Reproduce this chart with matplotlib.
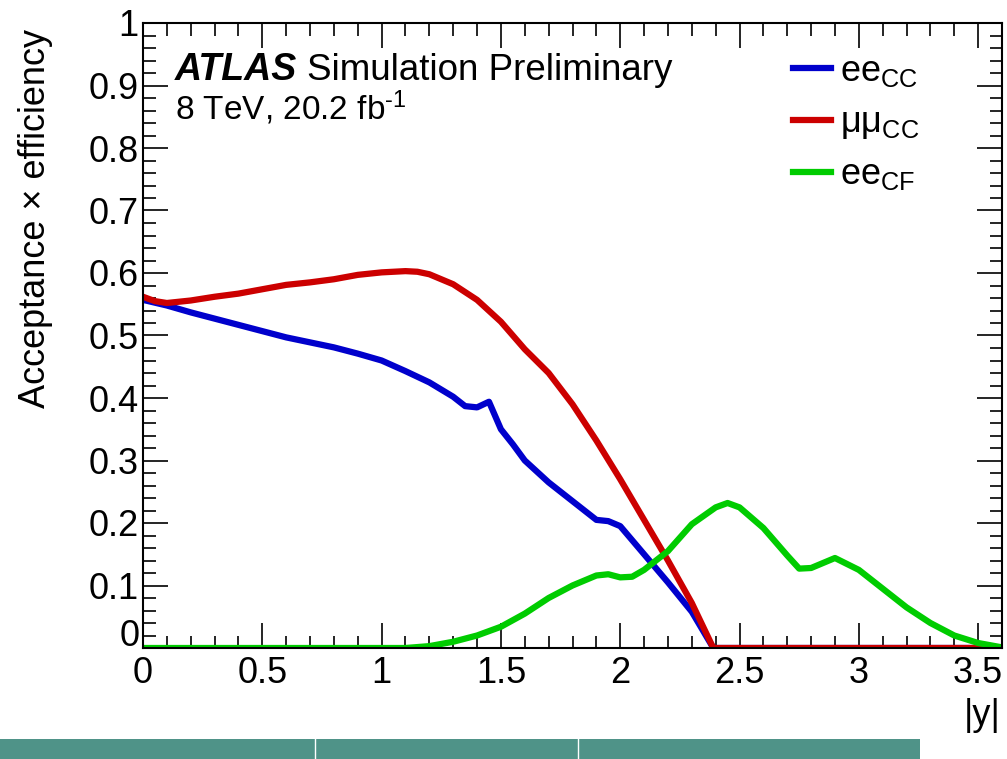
# Acceptance x efficiency vs |y| -- ATLAS style reproduction

import numpy as np
import matplotlib.pyplot as plt
from matplotlib.ticker import MultipleLocator, FuncFormatter
from matplotlib.patches import Rectangle

plt.rcParams['font.family'] = ['Liberation Sans', 'DejaVu Sans']
plt.rcParams['mathtext.fontset'] = 'custom'
plt.rcParams['mathtext.rm'] = 'Liberation Sans'
plt.rcParams['mathtext.it'] = 'Liberation Sans:italic'

# ee_CC
x_ee_cc = [0.0, 0.1, 0.2, 0.3, 0.4, 0.5, 0.6, 0.7, 0.8, 0.9, 1.0, 1.1, 1.2, 1.3,
           1.35, 1.4, 1.45, 1.5, 1.55, 1.6, 1.7, 1.8, 1.9, 1.95, 2.0, 2.1, 2.2,
           2.3, 2.39, 2.5, 3.0, 3.6]
y_ee_cc = [0.557, 0.548, 0.537, 0.527, 0.517, 0.507, 0.497, 0.489, 0.481, 0.471,
           0.460, 0.443, 0.425, 0.402, 0.387, 0.385, 0.394, 0.350, 0.326, 0.300,
           0.265, 0.235, 0.205, 0.203, 0.195, 0.150, 0.105, 0.058, 0.0, 0.0, 0.0, 0.0]

# mumu_CC
x_mm_cc = [0.0, 0.05, 0.1, 0.2, 0.3, 0.4, 0.5, 0.6, 0.7, 0.8, 0.9, 1.0, 1.1, 1.15,
           1.2, 1.3, 1.4, 1.5, 1.6, 1.7, 1.8, 1.9, 2.0, 2.1, 2.2, 2.3, 2.39, 2.5,
           3.0, 3.6]
y_mm_cc = [0.562, 0.555, 0.552, 0.556, 0.562, 0.567, 0.574, 0.581, 0.585, 0.590,
           0.597, 0.601, 0.603, 0.602, 0.598, 0.582, 0.557, 0.522, 0.478, 0.440,
           0.390, 0.332, 0.270, 0.205, 0.140, 0.072, 0.0, 0.0, 0.0, 0.0]

# ee_CF
x_ee_cf = [0.0, 0.5, 1.0, 1.1, 1.2, 1.3, 1.4, 1.5, 1.6, 1.7, 1.8, 1.9, 1.95, 2.0,
           2.05, 2.1, 2.2, 2.3, 2.4, 2.45, 2.5, 2.6, 2.7, 2.75, 2.8, 2.9, 3.0, 3.1,
           3.2, 3.3, 3.4, 3.5, 3.6]
y_ee_cf = [0.0, 0.0, 0.0, 0.0, 0.003, 0.010, 0.020, 0.034, 0.055, 0.080, 0.100,
           0.116, 0.118, 0.113, 0.114, 0.125, 0.155, 0.198, 0.225, 0.232, 0.225,
           0.192, 0.148, 0.127, 0.128, 0.144, 0.125, 0.095, 0.065, 0.040, 0.020,
           0.008, 0.001]

W, H = 1007, 759
fig = plt.figure(figsize=(W / 100, H / 100), dpi=100)
ax = fig.add_axes([143 / W, 1 - 648 / H, (1002 - 143) / W, (648 - 23) / H])

lw = 4.5
ax.plot(x_ee_cc, y_ee_cc, color='#0000cc', lw=lw, label=r'ee$_{\mathregular{CC}}$')
ax.plot(x_mm_cc, y_mm_cc, color='#cc0000', lw=lw, label=r'μμ$_{\mathregular{CC}}$')
ax.plot(x_ee_cf, y_ee_cf, color='#00cc00', lw=lw, label=r'ee$_{\mathregular{CF}}$')

ax.set_xlim(0, 3.6)
ax.set_ylim(0, 1)
ax.xaxis.set_major_locator(MultipleLocator(0.5))
ax.xaxis.set_minor_locator(MultipleLocator(0.1))
ax.yaxis.set_major_locator(MultipleLocator(0.1))
ax.yaxis.set_minor_locator(MultipleLocator(0.02))
ax.xaxis.set_major_formatter(FuncFormatter(lambda v, p: '%g' % round(v, 2)))
# the y "0" is written by hand a bit higher, as ROOT puts it
ax.yaxis.set_major_formatter(FuncFormatter(lambda v, p: '' if abs(v) < 1e-9 else '%g' % round(v, 2)))
ax.tick_params(which='both', direction='in', top=True, right=True, width=1.2,
               labelsize=26)
ax.tick_params(which='major', length=18)
ax.tick_params(which='minor', length=9)
ax.tick_params(axis='x', which='major', pad=6)
ax.tick_params(axis='y', which='major', pad=3)
for s in ax.spines.values():
    s.set_linewidth(1.5)

ax.text(-3 / 859, 12 / 625, '0', transform=ax.transAxes, fontsize=26,
        ha='right', va='center')

ax.set_ylabel('Acceptance × efficiency', fontsize=26, loc='top')
ax.yaxis.set_label_coords(-0.105, 0.99)
ax.set_xlabel('|y|', fontsize=26, loc='right')
ax.xaxis.set_label_coords(0.998, -0.08)

fig.text(175 / W, 1 - 80 / H, 'ATLAS', fontsize=27, fontweight='bold',
         fontstyle='italic', va='baseline')
fig.text(307 / W, 1 - 80 / H, 'Simulation Preliminary', fontsize=26.5, va='baseline')
fig.text(175 / W, 1 - 120 / H, r'8 TeV, 20.2 fb$^{\mathregular{\text{-}1}}$',
         fontsize=24, va='baseline')

ax.legend(loc='upper left', bbox_to_anchor=(793 / W, 1 - 54 / H),
          bbox_transform=fig.transFigure, frameon=False, fontsize=26,
          handlelength=1.05, handletextpad=0.25, labelspacing=0.45,
          borderpad=0, borderaxespad=0)

# teal strip at the bottom edge
fig.patches.append(Rectangle((0, 0), 920 / W, 20 / H, transform=fig.transFigure,
                             facecolor='#4f9388', edgecolor='none'))
for xs in [315, 578]:
    fig.add_artist(plt.Line2D([xs / W, xs / W], [0, 20 / H], color='white', lw=1))

plt.savefig('out.png', dpi=100)
